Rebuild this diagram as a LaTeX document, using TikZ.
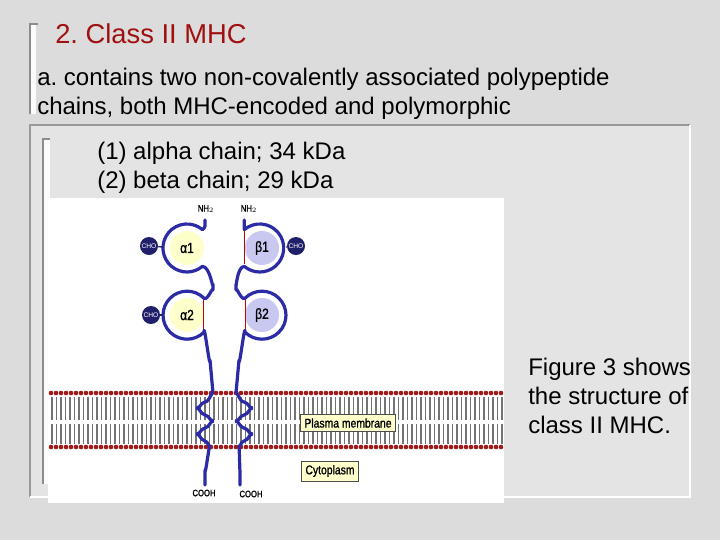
\documentclass[tikz,border=0pt]{standalone}
\usepackage{fontspec}
\setmainfont{Liberation Sans}
\newfontfamily\narrowf{Liberation Sans}[FakeStretch=0.82,FakeBold=1.2]
\definecolor{bg}{HTML}{DCDCDC}
\definecolor{panel}{HTML}{E4E4E4}
\definecolor{chain}{HTML}{2B2BA6}
\definecolor{head}{HTML}{A01818}
\definecolor{titlered}{HTML}{A01010}
\definecolor{ylw}{HTML}{FFFFCC}
\definecolor{lav}{HTML}{C8C8F0}
\definecolor{navy}{HTML}{20206A}
\frenchspacing
\begin{document}
\begin{tikzpicture}[x=0.75pt,y=-0.75pt,
  chainline/.style={chain,line width=2.4pt,line cap=round,line join=round},
  redline/.style={red!80!black,line width=1pt},
  cho/.style={circle,fill=navy,minimum size=13.5pt,inner sep=0pt,text=white,font=\fontsize{5}{5}\selectfont},
  lbl/.style={draw=black!70,fill=ylw,font=\narrowf\fontsize{9.5}{10}\selectfont,inner sep=3pt},
  small/.style={font=\narrowf\fontsize{7}{7}\selectfont},
  body/.style={font=\fontsize{18}{21.5}\selectfont,align=left,anchor=base west,inner sep=0pt}]
\fill[bg] (0,0) rectangle (720,540);
\useasboundingbox (0,0) rectangle (720,540);
% panels
\fill[panel] (30,125) rectangle (690,497);
\draw[black!40,line width=1.2pt] (30,497) -- (30,125) -- (690,125);
\draw[white,line width=1.2pt] (30,497) -- (690,497) -- (690,125);
\fill[white!90!bg] (30,24) rectangle (36,114);
\draw[black!45,line width=1pt] (38,24) -- (30,24) -- (30,114);
\fill[white!90!bg] (43,139) rectangle (50,484);
\draw[black!45,line width=1pt] (50,139) -- (43,139) -- (43,484);
% texts (anchor = baseline of last line)
\node[body,text=titlered,font=\fontsize{20.5}{24}\selectfont] (title) at (55,43) {2. Class II MHC};
\node[body] (pa) at (37,114) {a. contains two non-covalently associated polypeptide\\chains, both MHC-encoded and polymorphic};
\node[body] (pb) at (97,188) {(1) alpha chain; 34 kDa\\(2) beta chain; 29 kDa};
\node[body] (fig) at (528,433) {Figure 3 shows\\the structure of\\class II MHC.};
% figure
\fill[white] (48,198) rectangle (504,503);
% membrane tails
\foreach \x in {52,56.5,...,502}{
  \draw[black!55,line width=0.9pt] (\x,397) -- (\x,420);
  \draw[black!55,line width=0.9pt] (\x,424) -- (\x,444);
}
\foreach \x in {51,56,...,502}{
  \fill[head] (\x,393) circle (2.3);
  \fill[head] (\x,447) circle (2.3);
}
% domain fills
\fill[ylw] (187,248) circle (17);
\fill[ylw] (187,315) circle (17);
\fill[lav] (262,248) circle (17);
\fill[lav] (262,315) circle (17);
\node (a1) at (187,248) {\narrowf\fontsize{11}{11}\selectfont α1};
\node (a2) at (187,315) {\narrowf\fontsize{11}{11}\selectfont α2};
\node (b1) at (262,248) {\narrowf\fontsize{11}{11}\selectfont β1};
\node (b2) at (262,315) {\narrowf\fontsize{11}{11}\selectfont β2};
% red chords
\draw[redline] (203.4,298.5) -- (203.4,331.5);
\draw[redline] (244.3,229) -- (244.3,264);
\draw[redline] (245.6,298.5) -- (245.6,331.5);
% alpha chain
\draw[chainline] (205,220) -- (205,226) to[out=-90,in=40] (202.4,229.6)
  arc[start angle=-50,end angle=-310,radius=24]
  to[out=0,in=-90] (213,284) -- (213,290) to[out=90,in=-40] (204,298.2)
  arc[start angle=-45,end angle=-315,radius=24]
  to[out=90,in=-90] (210,360) -- (213,393)
  to[out=90,in=0] (205,402) to[out=180,in=-90] (197,408) to[out=90,in=180] (205,415)
  to[out=0,in=-90] (213,421) to[out=90,in=0] (205,428) to[out=180,in=-90] (197,434) to[out=90,in=180] (205,441)
  to[out=0,in=-90] (210,447) to[out=90,in=-90] (205,470) -- (205,485);
% beta chain
\draw[chainline] (244.3,220) -- (244.3,229.6)
  arc[start angle=-130,end angle=130,radius=24]
  to[out=180,in=-90] (236,284) -- (236,290) to[out=90,in=-140] (245,298.2)
  arc[start angle=-135,end angle=135,radius=24]
  to[out=90,in=-90] (239,360) -- (236,393)
  to[out=90,in=180] (244,402) to[out=0,in=-90] (252,408) to[out=90,in=0] (244,415)
  to[out=180,in=-90] (236,421) to[out=90,in=180] (244,428) to[out=0,in=-90] (252,434) to[out=90,in=0] (244,441)
  to[out=180,in=-90] (239,447) to[out=90,in=-90] (240,470) -- (240,485);
% CHO
\node[cho] (c1) at (149,246) {CHO};
\node[cho] (c2) at (151,315) {CHO};
\node[cho] (c3) at (296,246) {CHO};
\draw[navy,line width=1pt] (c1) -- (163,247);
\draw[navy,line width=1pt] (c2) -- (163,315);
\draw[navy,line width=1pt] (c3) -- (286,247);
% labels
\node[small] (n1) at (206,209) {NH$_2$};
\node[small] (n2) at (249,209) {NH$_2$};
\node[small] (co1) at (204,493) {COOH};
\node[small] (co2) at (251,494) {COOH};
\node[lbl] (pm) at (348,423) {Plasma membrane};
\node[lbl] (cy) at (330,471) {Cytoplasm};
\end{tikzpicture}
\end{document}
